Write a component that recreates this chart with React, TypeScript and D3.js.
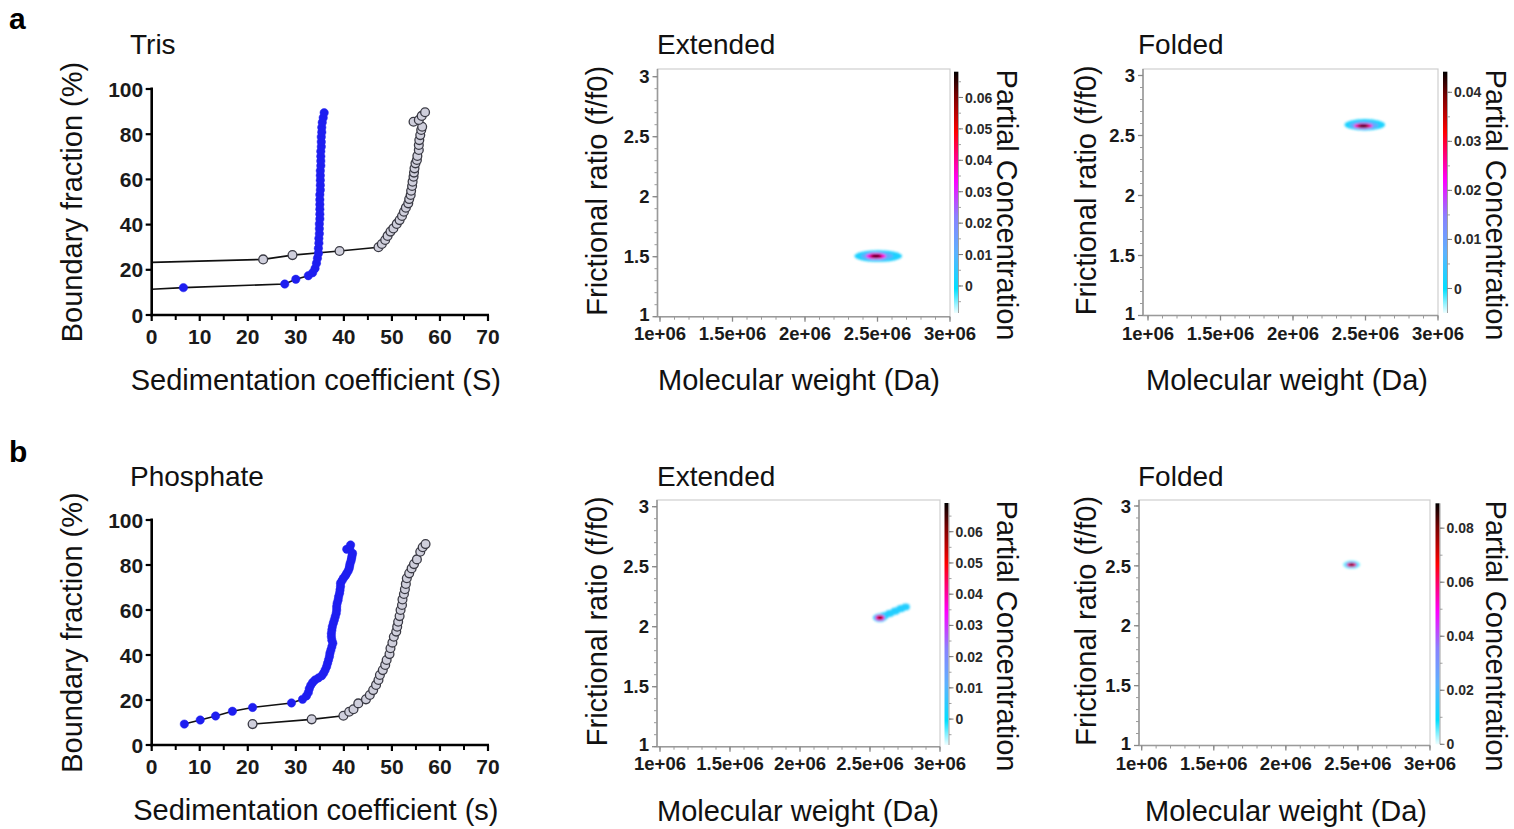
import React from 'react';
import * as d3 from 'd3';

const FONT = '"Liberation Sans", Arial, Helvetica, sans-serif';

// ---------------- Sedimentation panels ----------------
const sTicks = [0, 10, 20, 30, 40, 50, 60, 70];
const sMinorTicks = [5, 15, 25, 35, 45, 55, 65];
const bfTicks = [0, 20, 40, 60, 80, 100];

// Tris
const trisBlueIntercept = 11.4;
const trisBlueS = [6.6, 27.7, 30.0, 32.6, 33.5, 34.0, 34.3, 34.5, 34.7, 34.7, 34.8, 34.8, 34.9, 34.9, 34.9, 35.0, 35.0, 35.0, 35.0, 35.0, 35.0, 35.1, 35.1, 35.1, 35.1, 35.1, 35.2, 35.2, 35.2, 35.2, 35.3, 35.3, 35.3, 35.4, 35.4, 35.5, 35.7, 35.9];
const trisBlueBF = [12.1, 13.7, 15.8, 17.4, 18.7, 20.6, 22.9, 25.1, 27.3, 29.5, 31.8, 33.9, 36.0, 38.2, 40.3, 42.5, 44.6, 46.8, 48.9, 51.0, 53.2, 55.3, 57.4, 59.6, 61.7, 63.8, 66.0, 68.1, 70.2, 72.4, 74.5, 76.6, 78.8, 80.9, 83.0, 85.2, 87.3, 89.5];
const trisGrayIntercept = 23.3;
const trisGrayS = [23.2, 29.3, 39.1, 47.2, 47.9, 48.6, 49.1, 49.7, 50.3, 51.0, 51.6, 52.1, 52.5, 52.9, 53.4, 53.6, 53.9, 54.0, 54.2, 54.3, 54.5, 54.6, 54.7, 54.9, 55.2, 55.3, 55.6, 55.6, 55.7, 55.9, 56.1, 56.3, 54.5, 55.6, 56.2, 56.9];
const trisGrayBF = [24.6, 26.5, 28.3, 30.0, 31.4, 33.2, 35.0, 36.9, 38.3, 40.3, 42.0, 43.8, 45.7, 47.5, 49.4, 51.3, 53.1, 55.0, 57.1, 59.0, 61.2, 63.0, 64.9, 67.1, 68.6, 70.4, 73.0, 75.2, 77.4, 79.6, 81.9, 83.3, 85.5, 86.3, 88.1, 89.7];

// Phosphate
const phosBlueS = [6.8, 10.1, 13.3, 16.8, 21.0, 29.1, 31.4, 32.2, 32.6, 32.8, 33.1, 33.5, 34.0, 34.7, 35.4, 35.8, 36.1, 36.4, 36.6, 36.8, 37.0, 37.1, 37.3, 37.5, 37.7, 37.5, 37.4, 37.4, 37.5, 37.6, 37.8, 38.0, 38.2, 38.4, 38.5, 38.5, 38.6, 38.8, 38.9, 39.1, 39.2, 39.3, 39.3, 39.6, 39.9, 40.3, 40.6, 40.9, 41.1, 41.2, 41.3, 41.5, 41.6, 41.7, 41.8, 40.6, 41.2, 41.4];
const phosBlueBF = [9.3, 11.1, 12.9, 15.0, 16.7, 18.7, 20.3, 21.8, 23.3, 25.0, 26.5, 27.8, 28.9, 29.8, 30.8, 32.0, 33.3, 34.8, 36.3, 37.8, 39.3, 40.8, 42.2, 43.7, 45.2, 46.6, 48.1, 49.6, 51.1, 52.6, 54.1, 55.5, 57.0, 58.5, 60.0, 61.5, 63.0, 64.4, 65.9, 67.4, 68.9, 70.4, 71.9, 73.0, 74.1, 75.2, 76.3, 77.4, 78.5, 79.6, 80.7, 81.9, 83.0, 84.1, 85.2, 87.0, 87.5, 88.9];
const phosGrayS = [21.0, 33.3, 39.9, 41.1, 42.0, 43.0, 44.6, 45.4, 46.1, 46.7, 47.2, 47.5, 48.1, 48.6, 48.9, 49.5, 49.7, 50.1, 50.4, 50.9, 51.1, 51.3, 51.6, 51.8, 52.1, 52.2, 52.5, 52.7, 52.9, 53.1, 53.6, 54.1, 54.6, 55.2, 55.9, 56.4, 57.0];
const phosGrayBF = [9.3, 11.4, 13.0, 14.8, 15.9, 18.5, 20.3, 22.2, 24.4, 26.7, 28.9, 31.1, 33.3, 35.6, 37.8, 40.4, 43.0, 45.5, 48.1, 50.4, 52.6, 54.8, 57.3, 60.0, 62.2, 64.7, 67.1, 69.2, 71.6, 74.1, 76.3, 78.5, 80.4, 82.5, 85.9, 87.9, 89.3];

// ---------------- c(M, f/f0) panels ----------------
const mwTicks = [1e6, 1.5e6, 2e6, 2.5e6, 3e6];
const mwTickLabels = ['1e+06', '1.5e+06', '2e+06', '2.5e+06', '3e+06'];
const ffTicks = [1, 1.5, 2, 2.5, 3];
const ffTickLabels = ['1', '1.5', '2', '2.5', '3'];

// colour map (fraction of colour-bar range -> colour)
const cmapStops = [0, 0.1, 0.25, 0.4, 0.55, 0.75, 0.9, 1];
const cmapColors = ['#eefeff', '#00e0ff', '#5cb2ff', '#8a80ff', '#ff00ff', '#ff0000', '#780000', '#000000'];

// Tris - extended
const trisExtMW = [2.505e6, 2.497e6, 2.49e6, 2.49e6, 2.49e6];
const trisExtFF = [1.505, 1.505, 1.505, 1.505, 1.505];
const trisExtSdMW = [0.165e6, 0.11e6, 0.07e6, 0.045e6, 0.026e6];
const trisExtSdFF = [0.048, 0.035, 0.025, 0.017, 0.01];
const trisExtC = [0.003, 0.012, 0.035, 0.055, 0.068];
const trisExtBar = [-0.0086, 0.0682];
const trisExtBarTicks = [0, 0.01, 0.02, 0.03, 0.04, 0.05, 0.06];

// Tris - folded
const trisFoldMW = [2.495e6, 2.49e6, 2.485e6, 2.485e6, 2.485e6];
const trisFoldFF = [2.59, 2.585, 2.58, 2.58, 2.58];
const trisFoldSdMW = [0.14e6, 0.1e6, 0.065e6, 0.045e6, 0.025e6];
const trisFoldSdFF = [0.048, 0.034, 0.022, 0.015, 0.009];
const trisFoldC = [0.002, 0.008, 0.024, 0.036, 0.044];
const trisFoldBar = [-0.005, 0.0442];
const trisFoldBarTicks = [0, 0.01, 0.02, 0.03, 0.04];

// Phosphate - extended (core + streak)
const phosExtMW = [2.60e6, 2.64e6, 2.68e6, 2.72e6, 2.755e6, 2.571e6, 2.571e6, 2.571e6, 2.571e6];
const phosExtFF = [2.09, 2.11, 2.13, 2.15, 2.165, 2.075, 2.075, 2.075, 2.075];
const phosExtSdMW = [0.035e6, 0.035e6, 0.035e6, 0.035e6, 0.03e6, 0.05e6, 0.035e6, 0.025e6, 0.014e6];
const phosExtSdFF = [0.03, 0.03, 0.03, 0.03, 0.028, 0.035, 0.025, 0.018, 0.01];
const phosExtC = [0.004, 0.004, 0.004, 0.004, 0.004, 0.005, 0.03, 0.048, 0.062];
const phosExtBar = [-0.0083, 0.0692];
const phosExtBarTicks = [0, 0.01, 0.02, 0.03, 0.04, 0.05, 0.06];

// Phosphate - folded
const phosFoldMW = [2.456e6, 2.456e6, 2.456e6, 2.456e6];
const phosFoldFF = [2.51, 2.51, 2.51, 2.51];
const phosFoldSdMW = [0.06e6, 0.042e6, 0.03e6, 0.016e6];
const phosFoldSdFF = [0.035, 0.024, 0.017, 0.01];
const phosFoldC = [0.004, 0.03, 0.06, 0.082];
const phosFoldBar = [0, 0.0892];
const phosFoldBarTicks = [0, 0.02, 0.04, 0.06, 0.08];

type SeriesDef = { s: number[]; bf: number[]; intercept?: number; kind: 'blue' | 'gray' };

function SPanel(props: {
  title: string; titleY: number; yTop: number; yBottom: number; xLabel: string; series: SeriesDef[];
}) {
  const { title, titleY, yTop, yBottom, xLabel, series } = props;
  const x = d3.scaleLinear().domain([0, 70]).range([151.7, 488]);
  const y = d3.scaleLinear().domain([0, 100]).range([yBottom, yTop]);
  const line = d3.line<[number, number]>().x(d => x(d[0])).y(d => y(d[1]));
  const y0 = y(0);
  return (
    <g>
      <text x={130} y={titleY} fontSize={28} fontFamily={FONT} fill="#111">{title}</text>
      <text transform={`translate(82,${(yTop + yBottom) / 2}) rotate(-90)`} textAnchor="middle" fontSize={29} fontFamily={FONT} fill="#111">Boundary fraction (%)</text>
      <text x={(x(0) + x(70)) / 2 - 4} y={y0 + 75} textAnchor="middle" fontSize={29} fontFamily={FONT} fill="#111">{xLabel}</text>
      {series.map((sr, i) => {
        const pts: [number, number][] = sr.s.map((v, k) => [v, sr.bf[k]] as [number, number]);
        const linePts = sr.intercept != null ? [[0, sr.intercept] as [number, number], ...pts] : pts;
        return (
          <g key={i}>
            <path d={line(linePts) || ''} fill="none" stroke="#111" strokeWidth={1.6} />
            {pts.map((p, k) => (
              <circle key={k} cx={x(p[0])} cy={y(p[1])} r={sr.kind === 'blue' ? 4.2 : 4.4}
                fill={sr.kind === 'blue' ? '#1e1ef0' : '#cfcfdc'}
                stroke={sr.kind === 'blue' ? '#1e1ef0' : '#3a3a44'} strokeWidth={sr.kind === 'blue' ? 0.5 : 1.3} />
            ))}
          </g>
        );
      })}
      {/* axes */}
      <line x1={x(0)} x2={x(0)} y1={y(100) - 1.5} y2={y0 + 1.3} stroke="#000" strokeWidth={2.6} />
      <line x1={x(0) - 1.3} x2={x(70) + 1} y1={y0} y2={y0} stroke="#000" strokeWidth={2.6} />
      {bfTicks.map(t => (
        <g key={t}>
          <line x1={x(0) - 6} x2={x(0)} y1={y(t)} y2={y(t)} stroke="#000" strokeWidth={2.2} />
          <text x={x(0) - 8.5} y={y(t)} dy="0.36em" textAnchor="end" fontSize={21} fontWeight="bold" fontFamily={FONT} fill="#1a1a1a">{t}</text>
        </g>
      ))}
      {sTicks.map(t => (
        <g key={t}>
          <line x1={x(t)} x2={x(t)} y1={y0} y2={y0 + 6} stroke="#000" strokeWidth={2.2} />
          <text x={x(t)} y={y0 + 29} textAnchor="middle" fontSize={21} fontWeight="bold" fontFamily={FONT} fill="#1a1a1a">{t}</text>
        </g>
      ))}
      {sMinorTicks.map(t => (
        <line key={t} x1={x(t)} x2={x(t)} y1={y0} y2={y0 + 5} stroke="#000" strokeWidth={2} />
      ))}
    </g>
  );
}

type Spot = { mw: number[]; ff: number[]; sdMW: number[]; sdFF: number[]; c: number[] };

function HeatPanel(props: {
  id: string; title: string; titleX: number; titleY: number;
  xr: [number, number]; yb: number; yt: number; axisX: number; frameTop: number; tickBase: number;
  cbX: number; cbTop: number; cbBottom: number; bar: number[]; barTicks: number[];
  spot: Spot; yLabelBase: number; cbLabelBase: number; cbLabelMid: number; xLabelY: number; xLabelMid: number;
}) {
  const p = props;
  const x = d3.scaleLinear().domain([1e6, 3e6]).range(p.xr);
  const y = d3.scaleLinear().domain([1, 3]).range([p.yb, p.yt]);
  const [bmin, bmax] = p.bar;
  const cmap = d3.scaleLinear<string>()
    .domain(cmapStops.map(t => bmin + t * (bmax - bmin)))
    .range(cmapColors).interpolate(d3.interpolateRgb).clamp(true);
  const cby = d3.scaleLinear().domain([bmin, bmax]).range([p.cbBottom, p.cbTop]);
  const step = p.barTicks[1] - p.barTicks[0];
  const minorBar = d3.range(p.barTicks[0] - step * 2, bmax, step / 2).filter(v => v >= bmin && v <= bmax);
  const xMinor = d3.range(10, 31).map(v => v * 1e5);
  const yMinor = d3.range(10, 31).map(v => v / 10);
  const order = d3.range(p.spot.c.length).sort((a, b) => p.spot.c[a] - p.spot.c[b]);
  const right = p.xr[1];
  const bottom = p.yb;
  const fmt = (v: number) => (v === 0 ? '0' : v.toFixed(2));
  return (
    <g>
      <defs>
        <linearGradient id={`cb-${p.id}`} x1="0" y1="1" x2="0" y2="0">
          {cmapStops.map((t, i) => <stop key={i} offset={t} stopColor={cmapColors[i]} />)}
        </linearGradient>
        <filter id={`blur-${p.id}`} x="-50%" y="-50%" width="200%" height="200%">
          <feGaussianBlur stdDeviation={1.1} />
        </filter>
      </defs>
      <text x={p.titleX} y={p.titleY} fontSize={28} fontFamily={FONT} fill="#111">{p.title}</text>
      {/* frame */}
      <rect x={p.axisX} y={p.frameTop} width={right - p.axisX} height={bottom - p.frameTop} fill="#fff" stroke="#cfcfcf" strokeWidth={1.2} />
      {/* spot */}
      <g filter={`url(#blur-${p.id})`}>
        {order.map(k => {
          const cx = x(p.spot.mw[k]);
          const cy = y(p.spot.ff[k]);
          const rx = x(p.spot.mw[k] + p.spot.sdMW[k]) - cx;
          const ry = cy - y(p.spot.ff[k] + p.spot.sdFF[k]);
          return <ellipse key={k} cx={cx} cy={cy} rx={rx} ry={ry} fill={cmap(p.spot.c[k])} />;
        })}
      </g>
      {/* left axis */}
      <line x1={p.axisX} x2={p.axisX} y1={p.frameTop} y2={bottom} stroke="#9a9a9a" strokeWidth={1.6} />
      {yMinor.map(v => (
        <line key={v} x1={p.axisX - 3} x2={p.axisX} y1={y(v)} y2={y(v)} stroke="#9a9a9a" strokeWidth={1} />
      ))}
      {ffTicks.map((v, i) => (
        <g key={v}>
          <line x1={p.axisX - 5} x2={p.axisX} y1={y(v)} y2={y(v)} stroke="#888" strokeWidth={1.3} />
          <text x={p.axisX - 8} y={y(v) - (i === 0 ? 2 : 0)} dy="0.36em" textAnchor="end" fontSize={18.5} fontWeight="bold" fontFamily={FONT} fill="#1a1a1a">{ffTickLabels[i]}</text>
        </g>
      ))}
      {/* bottom axis */}
      <line x1={p.axisX} x2={right} y1={bottom} y2={bottom} stroke="#9a9a9a" strokeWidth={1.6} />
      {xMinor.map(v => (
        <line key={v} x1={x(v)} x2={x(v)} y1={bottom} y2={bottom + 3} stroke="#9a9a9a" strokeWidth={1} />
      ))}
      {mwTicks.map((v, i) => (
        <g key={v}>
          <line x1={x(v)} x2={x(v)} y1={bottom} y2={bottom + 5} stroke="#888" strokeWidth={1.3} />
          <text x={x(v)} y={p.tickBase} textAnchor="middle" fontSize={18.5} fontWeight="bold" fontFamily={FONT} fill="#1a1a1a">{mwTickLabels[i]}</text>
        </g>
      ))}
      {/* axis titles */}
      <text transform={`translate(${p.yLabelBase},${(p.frameTop + bottom) / 2 - 2}) rotate(-90)`} textAnchor="middle" fontSize={29} fontFamily={FONT} fill="#111">Frictional ratio (f/f0)</text>
      <text x={p.xLabelMid} y={p.xLabelY} textAnchor="middle" fontSize={29} fontFamily={FONT} fill="#111">Molecular weight (Da)</text>
      {/* colour bar */}
      <rect x={p.cbX} y={p.cbTop} width={4} height={p.cbBottom - p.cbTop} fill={`url(#cb-${p.id})`} />
      <line x1={p.cbX + 4.5} x2={p.cbX + 4.5} y1={p.cbTop} y2={p.cbBottom} stroke="#8a8a8a" strokeWidth={0.8} />
      {minorBar.map((v, i) => (
        <line key={i} x1={p.cbX + 4.5} x2={p.cbX + 7} y1={cby(v)} y2={cby(v)} stroke="#8a8a8a" strokeWidth={0.8} />
      ))}
      {p.barTicks.map(v => (
        <g key={v}>
          <line x1={p.cbX + 4.5} x2={p.cbX + 9} y1={cby(v)} y2={cby(v)} stroke="#777" strokeWidth={1} />
          <text x={p.cbX + 11} y={cby(v)} dy="0.36em" fontSize={14} fontWeight="bold" fontFamily={FONT} fill="#2a2a2a">{fmt(v)}</text>
        </g>
      ))}
      <text transform={`translate(${p.cbLabelBase},${p.cbLabelMid}) rotate(90)`} textAnchor="middle" fontSize={29} fontFamily={FONT} fill="#111">Partial Concentration</text>
    </g>
  );
}

export default function App() {
  const trisExt: Spot = { mw: trisExtMW, ff: trisExtFF, sdMW: trisExtSdMW, sdFF: trisExtSdFF, c: trisExtC };
  const trisFold: Spot = { mw: trisFoldMW, ff: trisFoldFF, sdMW: trisFoldSdMW, sdFF: trisFoldSdFF, c: trisFoldC };
  const phosExt: Spot = { mw: phosExtMW, ff: phosExtFF, sdMW: phosExtSdMW, sdFF: phosExtSdFF, c: phosExtC };
  const phosFold: Spot = { mw: phosFoldMW, ff: phosFoldFF, sdMW: phosFoldSdMW, sdFF: phosFoldSdFF, c: phosFoldC };
  return (
    <svg width={1514} height={829} viewBox="0 0 1514 829" style={{ position: 'absolute', left: 0, top: 0, background: '#fff' }}>
      <rect x={0} y={0} width={1514} height={829} fill="#fff" />
      <text x={9} y={29} fontSize={30} fontWeight="bold" fontFamily={FONT} fill="#000">a</text>
      <text x={9} y={462} fontSize={30} fontWeight="bold" fontFamily={FONT} fill="#000">b</text>

      <SPanel title="Tris" titleY={54} yTop={89} yBottom={315} xLabel="Sedimentation coefficient (S)"
        series={[
          { s: trisGrayS, bf: trisGrayBF, intercept: trisGrayIntercept, kind: 'gray' },
          { s: trisBlueS, bf: trisBlueBF, intercept: trisBlueIntercept, kind: 'blue' },
        ]} />
      <SPanel title="Phosphate" titleY={486} yTop={520} yBottom={745} xLabel="Sedimentation coefficient (s)"
        series={[
          { s: phosGrayS, bf: phosGrayBF, kind: 'gray' },
          { s: phosBlueS, bf: phosBlueBF, kind: 'blue' },
        ]} />

      <HeatPanel id="ae" title="Extended" titleX={657} titleY={54} xr={[660, 950]} yb={316.7} yt={76.7}
        axisX={657.5} frameTop={69} tickBase={339.5} cbX={954} cbTop={71.7} cbBottom={313}
        bar={trisExtBar} barTicks={trisExtBarTicks} spot={trisExt} yLabelBase={607} cbLabelBase={997} cbLabelMid={205}
        xLabelY={390} xLabelMid={799} />
      <HeatPanel id="af" title="Folded" titleX={1138} titleY={54} xr={[1148, 1438]} yb={315.5} yt={75.5}
        axisX={1143} frameTop={69} tickBase={339.5} cbX={1443} cbTop={71.7} cbBottom={313}
        bar={trisFoldBar} barTicks={trisFoldBarTicks} spot={trisFold} yLabelBase={1096} cbLabelBase={1486} cbLabelMid={205}
        xLabelY={390} xLabelMid={1287} />
      <HeatPanel id="be" title="Extended" titleX={657} titleY={486} xr={[660, 940]} yb={746.7} yt={506.7}
        axisX={657} frameTop={500} tickBase={769.5} cbX={944.5} cbTop={503} cbBottom={745}
        bar={phosExtBar} barTicks={phosExtBarTicks} spot={phosExt} yLabelBase={607} cbLabelBase={997} cbLabelMid={636}
        xLabelY={821} xLabelMid={798} />
      <HeatPanel id="bf" title="Folded" titleX={1138} titleY={486} xr={[1141.7, 1430]} yb={745.5} yt={506}
        axisX={1139} frameTop={500} tickBase={769.5} cbX={1435.5} cbTop={503.3} cbBottom={744.3}
        bar={phosFoldBar} barTicks={phosFoldBarTicks} spot={phosFold} yLabelBase={1096} cbLabelBase={1486} cbLabelMid={636}
        xLabelY={821} xLabelMid={1286} />
    </svg>
  );
}
